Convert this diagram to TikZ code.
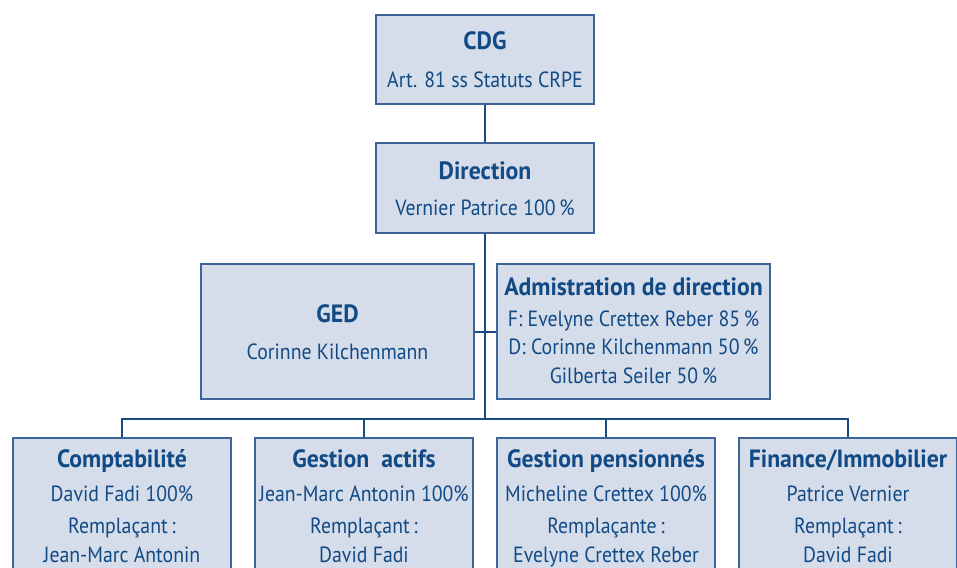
\documentclass[tikz,border=0pt]{standalone}
\usepackage{fontspec}
\setmainfont{PT Sans}
\newfontfamily\bodyfont{PT Sans}[FakeStretch=0.9]
\newfontfamily\titlefont{PT Sans}[FakeStretch=0.95]
\definecolor{boxfill}{RGB}{213,220,234}
\definecolor{ink}{RGB}{17,74,133}
\definecolor{edge}{RGB}{60,100,150}
\definecolor{wire}{RGB}{25,75,128}
\begin{document}
\begin{tikzpicture}[x=1pt,y=-1pt,
  orgbox/.style={draw=edge,line width=1.1pt,fill=boxfill,rectangle,inner sep=0pt},
  ttl/.style={anchor=base,inner sep=0pt,text=ink,font=\titlefont\fontsize{25}{27}\selectfont\bfseries},
  txt/.style={anchor=base,inner sep=0pt,text=ink,font=\bodyfont\fontsize{22}{24}\selectfont},
  conn/.style={draw=wire,line width=2pt}]
\useasboundingbox (0,0) rectangle (957,567);
% boxes
\node[orgbox,minimum width=218pt,minimum height=89pt] (cdg) at (485,59.5) {};
\node[orgbox,minimum width=218pt,minimum height=90pt] (dir) at (485,188) {};
\node[orgbox,minimum width=273pt,minimum height=135pt] (ged) at (337.5,331.5) {};
\node[orgbox,minimum width=273pt,minimum height=135pt] (adm) at (633.5,331.5) {};
\node[orgbox,minimum width=218pt,minimum height=150pt] (b1) at (122,513) {};
\node[orgbox,minimum width=218pt,minimum height=150pt] (b2) at (364,513) {};
\node[orgbox,minimum width=218pt,minimum height=150pt] (b3) at (606,513) {};
\node[orgbox,minimum width=218pt,minimum height=150pt] (b4) at (848,513) {};
% connectors
\coordinate (bus) at (485,419);
\draw[conn] (cdg.south) -- (dir.north);
\draw[conn] (dir.south) -- (bus);
\draw[conn] (ged.east) -- (adm.west);
\draw[conn] (b1.north) |- (bus);
\draw[conn] (b2.north) |- (bus);
\draw[conn] (b3.north) |- (bus);
\draw[conn] (b4.north) |- (bus);
% texts
\node[ttl] (cdgT) at (485,50) {CDG};
\node[txt] (cdgB) at (485,88) {Art. 81 ss Statuts CRPE};
\node[ttl] (dirT) at (485,179) {Direction};
\node[txt] (dirB) at (485,215) {Vernier Patrice 100\,\%};
\node[ttl] (gedT) at (337.5,322) {GED};
\node[txt] (gedB) at (337.5,359) {Corinne Kilchenmann};
\node[ttl] (admT) at (633.5,295) {Admistration de direction};
\node[txt] (admA) at (633.5,326) {F: Evelyne Crettex Reber 85\,\%};
\node[txt] (admB) at (633.5,354) {D: Corinne Kilchenmann 50\,\%};
\node[txt] (admC) at (633.5,383) {Gilberta Seiler 50\,\%};
\node[ttl] (b1T) at (122,467) {Comptabilité};
\node[txt] (b1A) at (122,501) {David Fadi 100\%};
\node[txt] (b1B) at (122,533) {Remplaçant\,:};
\node[txt] (b1C) at (122,562) {Jean-Marc Antonin};
\node[ttl] (b2T) at (364,467) {Gestion\ \ actifs};
\node[txt] (b2A) at (364,501) {Jean-Marc Antonin 100\%};
\node[txt] (b2B) at (364,533) {Remplaçant\,:};
\node[txt] (b2C) at (364,562) {David Fadi};
\node[ttl] (b3T) at (606,467) {Gestion pensionnés};
\node[txt] (b3A) at (606,501) {Micheline Crettex 100\%};
\node[txt] (b3B) at (606,533) {Remplaçante\,:};
\node[txt] (b3C) at (606,562) {Evelyne Crettex Reber};
\node[ttl] (b4T) at (848,467) {Finance/Immobilier};
\node[txt] (b4A) at (848,501) {Patrice Vernier};
\node[txt] (b4B) at (848,533) {Remplaçant\,:};
\node[txt] (b4C) at (848,562) {David Fadi};
\end{tikzpicture}
\end{document}
